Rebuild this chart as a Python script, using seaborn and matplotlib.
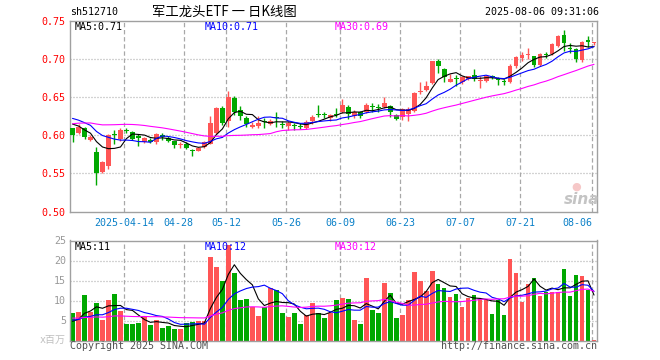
import numpy as np
import pandas as pd
import seaborn as sns
import matplotlib
matplotlib.use("Agg")
import matplotlib.pyplot as plt
import matplotlib.transforms as mtransforms

# trading calendar (SSE holidays inside the window)
holidays = ["2025-04-04", "2025-05-01", "2025-05-02", "2025-05-05", "2025-06-02"]
dates = pd.bdate_range("2025-03-31", "2025-08-06", freq="C", holidays=holidays)

open_ = [0.609, 0.603, 0.610, 0.594, 0.578, 0.552, 0.560, 0.601, 0.595, 0.607,
         0.604, 0.599, 0.591, 0.594, 0.591, 0.600, 0.597, 0.592, 0.587, 0.589,
         0.580, 0.580, 0.584, 0.589, 0.603, 0.636, 0.618, 0.649, 0.633, 0.623,
         0.611, 0.612, 0.618, 0.615, 0.623, 0.615, 0.612, 0.613, 0.612, 0.609,
         0.618, 0.628, 0.627, 0.623, 0.628, 0.631, 0.637, 0.625, 0.630, 0.631,
         0.638, 0.637, 0.637, 0.638, 0.626, 0.624, 0.628, 0.632, 0.656, 0.659,
         0.668, 0.697, 0.687, 0.670, 0.674, 0.670, 0.673, 0.679, 0.671, 0.671,
         0.677, 0.673, 0.671, 0.669, 0.691, 0.701, 0.705, 0.703, 0.692, 0.706,
         0.706, 0.717, 0.731, 0.714, 0.713, 0.699, 0.725, 0.721]
high = [0.610, 0.615, 0.611, 0.600, 0.584, 0.566, 0.601, 0.607, 0.609, 0.610,
        0.605, 0.602, 0.598, 0.596, 0.603, 0.603, 0.599, 0.593, 0.591, 0.591,
        0.582, 0.585, 0.592, 0.625, 0.637, 0.638, 0.658, 0.651, 0.638, 0.625,
        0.617, 0.625, 0.622, 0.621, 0.630, 0.618, 0.618, 0.616, 0.616, 0.620,
        0.627, 0.639, 0.631, 0.628, 0.636, 0.647, 0.639, 0.633, 0.632, 0.642,
        0.642, 0.641, 0.650, 0.640, 0.628, 0.636, 0.637, 0.657, 0.670, 0.671,
        0.697, 0.700, 0.688, 0.680, 0.679, 0.678, 0.678, 0.687, 0.677, 0.679,
        0.679, 0.676, 0.674, 0.693, 0.704, 0.709, 0.714, 0.704, 0.707, 0.709,
        0.720, 0.731, 0.738, 0.721, 0.714, 0.723, 0.730, 0.722]
low = [0.591, 0.602, 0.595, 0.592, 0.535, 0.551, 0.556, 0.589, 0.593, 0.603,
       0.594, 0.586, 0.590, 0.590, 0.589, 0.594, 0.591, 0.583, 0.583, 0.582,
       0.573, 0.579, 0.583, 0.589, 0.602, 0.613, 0.611, 0.626, 0.620, 0.611,
       0.610, 0.610, 0.609, 0.614, 0.611, 0.609, 0.607, 0.607, 0.608, 0.608,
       0.615, 0.624, 0.622, 0.619, 0.624, 0.629, 0.621, 0.623, 0.622, 0.629,
       0.631, 0.630, 0.636, 0.624, 0.620, 0.620, 0.618, 0.631, 0.654, 0.658,
       0.667, 0.682, 0.669, 0.669, 0.664, 0.667, 0.672, 0.671, 0.662, 0.669,
       0.673, 0.666, 0.666, 0.668, 0.688, 0.697, 0.700, 0.689, 0.691, 0.701,
       0.705, 0.716, 0.710, 0.708, 0.696, 0.696, 0.715, 0.718]
close = [0.600, 0.611, 0.598, 0.598, 0.551, 0.565, 0.600, 0.600, 0.607, 0.606,
         0.595, 0.597, 0.596, 0.591, 0.601, 0.598, 0.592, 0.587, 0.589, 0.583,
         0.579, 0.583, 0.591, 0.616, 0.635, 0.616, 0.650, 0.631, 0.625, 0.615,
         0.614, 0.616, 0.617, 0.619, 0.622, 0.613, 0.616, 0.612, 0.611, 0.617,
         0.624, 0.627, 0.626, 0.626, 0.627, 0.640, 0.628, 0.631, 0.625, 0.639,
         0.637, 0.636, 0.642, 0.631, 0.621, 0.634, 0.634, 0.655, 0.657, 0.665,
         0.697, 0.690, 0.676, 0.673, 0.673, 0.676, 0.677, 0.674, 0.672, 0.677,
         0.676, 0.672, 0.670, 0.691, 0.702, 0.705, 0.706, 0.692, 0.706, 0.705,
         0.719, 0.730, 0.720, 0.713, 0.700, 0.722, 0.722, 0.722]
# volume, millions of shares
volume = [6.9, 7.2, 11.4, 7.2, 9.4, 5.1, 10.2, 11.7, 7.4, 4.2,
          4.1, 4.4, 6.1, 3.9, 5.1, 3.1, 3.6, 3.0, 3.0, 4.5,
          4.7, 5.0, 4.8, 21.0, 18.3, 14.8, 23.8, 16.8, 10.2, 10.5,
          8.3, 6.2, 8.5, 13.2, 12.6, 7.0, 6.0, 6.8, 4.2, 6.5,
          9.3, 6.8, 5.6, 7.0, 10.2, 10.7, 10.4, 5.2, 4.1, 15.7,
          7.6, 6.9, 14.5, 11.9, 5.6, 6.4, 10.2, 17.2, 15.0, 12.4,
          17.5, 14.2, 13.2, 10.9, 11.7, 8.4, 10.7, 11.4, 10.4, 10.4,
          6.6, 10.2, 6.4, 20.3, 17.0, 9.7, 14.2, 15.7, 11.2, 12.2,
          12.2, 12.2, 18.0, 11.2, 16.5, 16.2, 12.7, 0.2]

# sessions before the window, only feed the moving averages
close_before = [0.590, 0.592, 0.595, 0.594, 0.597, 0.598, 0.596, 0.598, 0.600, 0.601,
                0.612, 0.620, 0.625, 0.630, 0.628, 0.632, 0.630, 0.633, 0.631, 0.629,
                0.634, 0.631, 0.633, 0.631, 0.618, 0.624, 0.623, 0.620, 0.606]
volume_before = [7.5, 6.2, 6.8, 5.9, 7.1, 6.4, 6.0, 7.3, 6.5, 6.2,
                 5.4, 4.8, 5.6, 4.9, 5.2, 4.6, 5.3, 5.0, 5.1, 5.2,
                 5.8, 5.1, 5.6, 5.3, 5.2, 4.6, 4.0, 4.3, 4.2]

tick_dates = ["2025-04-14", "2025-04-28", "2025-05-12", "2025-05-26", "2025-06-09",
              "2025-06-23", "2025-07-07", "2025-07-21", "2025-08-06"]
tick_labels = ["2025-04-14", "04-28", "05-12", "05-26", "06-09",
               "06-23", "07-07", "07-21", "08-06"]
price_ticks = [0.50, 0.55, 0.60, 0.65, 0.70, 0.75]
vol_ticks = [5, 10, 15, 20, 25]

UP = "#ff5555"
DOWN = "#00a800"
GRID = "#a8a8a8"
FRAME = "#a0a0a0"


def moving(before, values, n):
    s = pd.Series(before + values).rolling(n).mean()
    return s.iloc[len(before):].to_numpy()


def style_axes(ax, grid_x, hticks):
    for sp in ax.spines.values():
        sp.set_color(FRAME)
        sp.set_linewidth(1.0)
    for gx in grid_x:
        ax.axvline(gx, color=GRID, lw=0.9, ls=(0, (3.5, 2.2)), zorder=0)
    for hy in hticks:
        ax.axhline(hy, color=GRID, lw=0.9, ls=(0, (0.8, 1.6)), zorder=0)
    ax.grid(False)
    ax.tick_params(length=0)
    ax.set_xlabel("")
    ax.set_ylabel("")


def main():
    sns.set_theme(style="white")
    plt.rcParams["font.family"] = ["DejaVu Sans Mono", "Noto Sans CJK SC"]

    W, H = 660, 360
    fig = plt.figure(figsize=(6.6, 3.6), dpi=100)
    left, right = 70 / W, 597 / W
    axp = fig.add_axes([left, (H - 211.7) / H, right - left, 191.2 / H])
    axv = fig.add_axes([left, (H - 340.5) / H, right - left, 100 / H])

    n = len(close)
    x = np.arange(n)
    o = np.array(open_)
    c = np.array(close)
    up = c >= o
    colors = np.where(up, UP, DOWN)

    pos = {d.strftime("%Y-%m-%d"): i for i, d in enumerate(dates)}
    grid_x = [pos[d] - 0.33 for d in tick_dates]

    # price panel
    axp.vlines(x, low, high, colors=colors, lw=1.0, zorder=2)
    body = np.maximum(np.abs(c - o), 0.0012)
    axp.bar(x, body, bottom=np.minimum(o, c), width=0.8, color=colors,
            linewidth=0, zorder=3)
    price = pd.DataFrame({"x": x,
                          "ma5": moving(close_before, close, 5),
                          "ma10": moving(close_before, close, 10),
                          "ma30": moving(close_before, close, 30)})
    sns.lineplot(data=price, x="x", y="ma5", color="black", lw=0.8, ax=axp, zorder=4)
    sns.lineplot(data=price, x="x", y="ma10", color="#0000ff", lw=0.8, ax=axp, zorder=4)
    sns.lineplot(data=price, x="x", y="ma30", color="#ff00ff", lw=0.8, ax=axp, zorder=4)

    axp.set_xlim(-0.42, n - 0.5)
    axp.set_ylim(0.50, 0.75)
    style_axes(axp, grid_x, price_ticks[1:-1])
    axp.set_yticks(price_ticks)
    axp.set_yticklabels([f"{t:.2f}" for t in price_ticks], color="#ff0000", fontsize=7.2)
    axp.tick_params(axis="y", pad=3)
    axp.set_xticks(grid_x)
    axp.set_xticklabels(tick_labels, color="#0a80c8", fontsize=7.2)
    axp.tick_params(axis="x", pad=4.5)
    xl = axp.get_xticklabels()
    xl[1].set_transform(xl[1].get_transform()
                        + mtransforms.ScaledTranslation(-6 / 100, 0, fig.dpi_scale_trans))
    xl[-1].set_horizontalalignment("right")

    # volume panel
    vol = pd.DataFrame({"x": x, "vol": volume, "dir": np.where(up, "up", "down"),
                        "ma5": moving(volume_before, volume, 5),
                        "ma10": moving(volume_before, volume, 10),
                        "ma30": moving(volume_before, volume, 30)})
    sns.barplot(data=vol, x="x", y="vol", hue="dir", palette={"up": UP, "down": DOWN},
                native_scale=True, width=0.78, saturation=1, errorbar=None,
                dodge=False, legend=False, linewidth=0, ax=axv, zorder=2)
    sns.lineplot(data=vol, x="x", y="ma5", color="black", lw=0.8, ax=axv, zorder=4)
    sns.lineplot(data=vol, x="x", y="ma10", color="#0000ff", lw=0.8, ax=axv, zorder=4)
    sns.lineplot(data=vol, x="x", y="ma30", color="#ff00ff", lw=0.8, ax=axv, zorder=4)
    axv.set_xlim(-0.42, n - 0.5)
    axv.set_ylim(0, 25)
    style_axes(axv, grid_x, vol_ticks[:-1])
    axv.set_xticks([])
    axv.set_yticks(vol_ticks)
    axv.set_yticklabels([str(t) for t in vol_ticks], color="#999999", fontsize=7.2)
    axv.tick_params(axis="y", pad=3)

    # texts
    def ftext(px, py, s, **kw):
        fig.text(px / W, 1 - py / H, s, va="center", **kw)

    ftext(70, 12, "sh512710", color="black", fontsize=7.2)
    ftext(224, 12, "军工龙头ETF 一 日K线图", ha="center", color="black", fontsize=9.6,
          family=["Noto Sans CJK SC", "DejaVu Sans"])
    ftext(599, 12, "2025-08-06 09:31:06", ha="right", color="black", fontsize=7.2)

    ftext(75, 27, "MA5:0.71", color="black", fontsize=7.2)
    ftext(205, 27, "MA10:0.71", color="#0000ff", fontsize=7.2)
    ftext(335, 27, "MA30:0.69", color="#ff00ff", fontsize=7.2)

    ftext(75, 247, "MA5:11", color="black", fontsize=7.2)
    ftext(205, 247, "MA10:12", color="#0000ff", fontsize=7.2)
    ftext(335, 247, "MA30:12", color="#ff00ff", fontsize=7.2)

    ftext(66, 340, "x百万", ha="right", color="#c0c0c0", fontsize=7.2,
          family=["DejaVu Sans Mono", "Noto Sans CJK SC"])
    ftext(70, 346, "Copyright 2025 SINA.COM", color="#505050", fontsize=7.2)
    ftext(597, 346, "http://finance.sina.com.cn", ha="right", color="#505050", fontsize=7.2)
    ftext(576, 187, "●", ha="center", color="#f6c8c8", fontsize=8,
          family="DejaVu Sans")
    ftext(582, 199, "sina", ha="center", color="#c4c4c4", fontsize=11,
          fontweight="bold", fontstyle="italic", family="DejaVu Sans")

    fig.savefig("out.png", dpi=100)


if __name__ == "__main__":
    main()
